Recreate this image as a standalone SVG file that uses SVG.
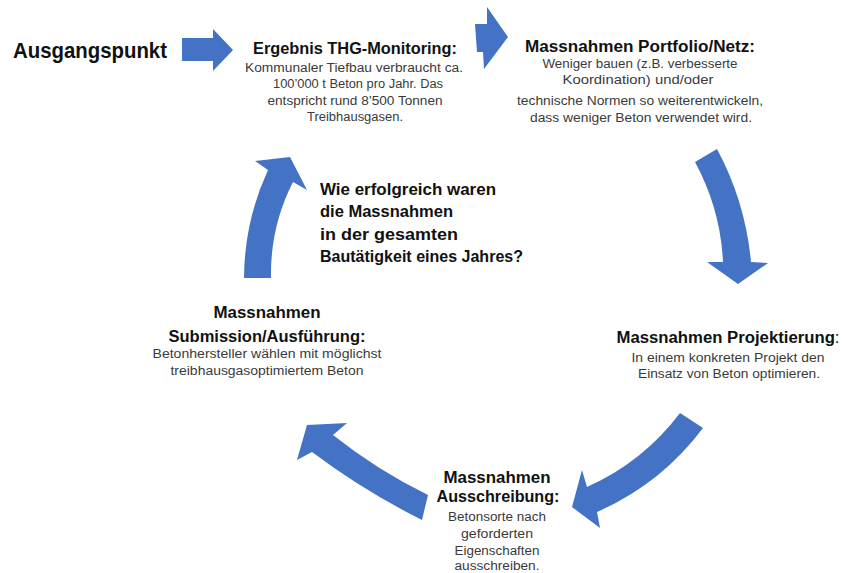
<svg xmlns="http://www.w3.org/2000/svg" width="842" height="573" viewBox="0 0 842 573">
<style>
.h{font-family:"Liberation Sans",Arial,sans-serif;font-weight:bold;fill:#111;}
.b{font-family:"Liberation Sans",Arial,sans-serif;fill:#3a3a3a;font-size:12.5px;}
.c{text-anchor:middle;}
.arr{fill:#4472C4;}
</style>
<rect width="842" height="573" fill="#fff"/>
<g id="start">
<text class="h" x="13" y="58" font-size="22" textLength="154" lengthAdjust="spacingAndGlyphs">Ausgangspunkt</text>
</g>
<g id="connectors">
<polygon class="arr" points="182,38 213,38 213,29 233,50 213,71 213,61 182,61"/>
<polygon class="arr" points="475,24 487,24 487,7 508,37 484,69 483,52 477,52"/>
<path class="arr" d="M695,162 L717,149 Q745.5,202 751,262 L768,263 L738,284 L707,262 L723,262 Q720.5,209 695,162 Z"/>
<path class="arr" d="M680,413 L703,428 Q661,484 597,512 L600,528 L572,507 L582,470 L587,487 Q643,462 680,413 Z"/>
<path class="arr" d="M428,495 L422,520 Q364,491 312,452 L297,460 L307,425 L347,423 L333,435 Q377,470 428,495 Z"/>
<path class="arr" d="M244,278 L271,278 Q270,227 293,182 L307,190 L290,157 L255,161 L268,170 Q244.3,221.4 244,278 Z"/>
</g>
<g id="monitoring">
<text class="h c" x="355" y="54" font-size="16" textLength="204" lengthAdjust="spacingAndGlyphs">Ergebnis THG-Monitoring:</text>
<text class="b c" x="354" y="72" textLength="218" lengthAdjust="spacingAndGlyphs">Kommunaler Tiefbau verbraucht ca.</text>
<text class="b c" x="358" y="88" textLength="170" lengthAdjust="spacingAndGlyphs">100’000 t Beton pro Jahr. Das</text>
<text class="b c" x="355" y="105" textLength="175" lengthAdjust="spacingAndGlyphs">entspricht rund 8’500 Tonnen</text>
<text class="b c" x="355" y="121" textLength="96" lengthAdjust="spacingAndGlyphs">Treibhausgasen.</text>
</g>
<g id="portfolio">
<text class="h c" x="640" y="52" font-size="16" textLength="230" lengthAdjust="spacingAndGlyphs">Massnahmen Portfolio/Netz:</text>
<text class="b c" x="640" y="68" textLength="195" lengthAdjust="spacingAndGlyphs">Weniger bauen (z.B. verbesserte</text>
<text class="b c" x="638" y="84" textLength="151" lengthAdjust="spacingAndGlyphs">Koordination) und/oder</text>
<text class="b c" x="640" y="105" textLength="246" lengthAdjust="spacingAndGlyphs">technische Normen so weiterentwickeln,</text>
<text class="b c" x="641" y="122" textLength="222" lengthAdjust="spacingAndGlyphs">dass weniger Beton verwendet wird.</text>
</g>
<g id="projektierung">
<text class="h c" x="728" y="343" font-size="16" textLength="223" lengthAdjust="spacingAndGlyphs">Massnahmen Projektierung<tspan font-weight="normal">:</tspan></text>
<text class="b c" x="728" y="362" textLength="193" lengthAdjust="spacingAndGlyphs">In einem konkreten Projekt den</text>
<text class="b c" x="729" y="378" textLength="182" lengthAdjust="spacingAndGlyphs">Einsatz von Beton optimieren.</text>
</g>
<g id="ausschreibung">
<text class="h c" x="497" y="483" font-size="16" textLength="107" lengthAdjust="spacingAndGlyphs">Massnahmen</text>
<text class="h c" x="498" y="502" font-size="16" textLength="123" lengthAdjust="spacingAndGlyphs">Ausschreibung:</text>
<text class="b c" x="497" y="521" textLength="98" lengthAdjust="spacingAndGlyphs">Betonsorte nach</text>
<text class="b c" x="497" y="538" textLength="72" lengthAdjust="spacingAndGlyphs">geforderten</text>
<text class="b c" x="497" y="555" textLength="85" lengthAdjust="spacingAndGlyphs">Eigenschaften</text>
<text class="b c" x="497" y="570" textLength="85" lengthAdjust="spacingAndGlyphs">ausschreiben.</text>
</g>
<g id="submission">
<text class="h c" x="267" y="318" font-size="16" textLength="107" lengthAdjust="spacingAndGlyphs">Massnahmen</text>
<text class="h c" x="267" y="342" font-size="16" textLength="197" lengthAdjust="spacingAndGlyphs">Submission/Ausführung:</text>
<text class="b c" x="267" y="358" textLength="229" lengthAdjust="spacingAndGlyphs">Betonhersteller wählen mit möglichst</text>
<text class="b c" x="267" y="375" textLength="193" lengthAdjust="spacingAndGlyphs">treibhausgasoptimiertem Beton</text>
</g>
<g id="question">
<text class="h" x="320" y="195" font-size="17" textLength="176" lengthAdjust="spacingAndGlyphs">Wie erfolgreich waren</text>
<text class="h" x="320" y="217" font-size="17" textLength="133" lengthAdjust="spacingAndGlyphs">die Massnahmen</text>
<text class="h" x="320" y="240" font-size="17" textLength="138" lengthAdjust="spacingAndGlyphs">in der gesamten</text>
<text class="h" x="320" y="262" font-size="17" textLength="203" lengthAdjust="spacingAndGlyphs">Bautätigkeit eines Jahres?</text>
</g>
</svg>
